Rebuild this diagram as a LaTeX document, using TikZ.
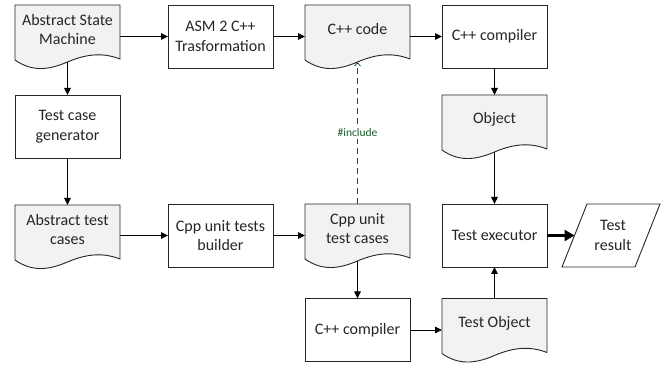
\documentclass[tikz,border=0pt]{standalone}
\usepackage{fontspec}
\setmainfont{Carlito}
\usetikzlibrary{arrows.meta,calc}
\definecolor{docfill}{RGB}{242,242,242}
\definecolor{edge}{RGB}{38,38,38}
\definecolor{incgreen}{RGB}{30,90,45}
\newcommand\docpath[1]{%
 \draw[shapeline,fill=docfill] (#1.north west) -- (#1.north east) -- ([yshift=9pt]#1.south east)
 .. controls ([xshift=-15.75pt,yshift=15pt]#1.south east) and ([xshift=-31.5pt,yshift=15pt]#1.south east) .. ([yshift=6pt]#1.south)
 .. controls ([xshift=-21pt,yshift=-3pt]#1.south) and ([xshift=-36.75pt,yshift=-3pt]#1.south) .. ([yshift=8pt]#1.south west) -- cycle;}
\tikzset{
 shapeline/.style={draw=edge,line width=0.9pt},
 area/.style={minimum width=105pt,minimum height=63pt,inner sep=0pt,outer sep=0pt},
 procbox/.style={area,shapeline,fill=white,align=center,text=edge,font=\fontsize{16}{19.5}\selectfont},
 txt/.style={align=center,text=edge,inner sep=0pt,font=\fontsize{16}{19.5}\selectfont},
 arr/.style={draw=black,line width=0.9pt,-{Triangle[length=7pt,width=6.5pt]}},
}
\begin{document}
\begin{tikzpicture}[x=1pt,y=1pt]
\useasboundingbox (0,0) rectangle (665,-366);
% document-shaped areas
\node[area] (asm) at (67.5,-36.5) {};
\node[area] (atc) at (67.5,-236.5) {};
\node[area] (code) at (357.5,-36.5) {};
\node[area] (cut) at (357.5,-235.5) {};
\node[area] (obj) at (494.5,-126.5) {};
\node[area] (tobj) at (494.5,-330) {};
\docpath{asm}
\docpath{atc}
\docpath{code}
\docpath{cut}
\docpath{obj}
\docpath{tobj}
\node[txt] (asmt) at ([yshift=7pt]asm.center) {Abstract State\\Machine};
\node[txt] (atct) at ([yshift=7pt]atc.center) {Abstract test\\cases};
\node[txt] (codet) at ([yshift=7pt]code.center) {C++ code};
\node[txt] (cutt) at ([yshift=7pt]cut.center) {Cpp unit\\test cases};
\node[txt] (objt) at ([yshift=7pt]obj.center) {Object};
\node[txt] (tobjt) at ([yshift=7pt]tobj.center) {Test Object};
% process boxes
\node[procbox] (a2c) at (220.5,-36.5) {ASM 2 C++\\Trasformation};
\node[procbox] (tcg) at (67.5,-126.5) {Test case\\generator};
\node[procbox] (bld) at (220.5,-235.5) {Cpp unit tests\\builder};
\node[procbox] (cc1) at (494.5,-36.5) {C++ compiler};
\node[procbox] (tex) at (494.5,-235.5) {Test executor};
\node[procbox] (cc2) at (357.5,-330) {C++ compiler};
% test result parallelogram
\node[area,minimum width=98pt] (res) at (611,-235.5) {};
\draw[shapeline,fill=white] ([xshift=25pt]res.north west) -- (res.north east) -- ([xshift=-25pt]res.south east) -- (res.south west) -- cycle;
\node[txt] (rest) at ([xshift=2pt]res.center) {Test\\result};
\coordinate (reshit) at (574.5,-235.5);
% connectors
\draw[arr] (asm.east) -- (a2c.west);
\draw[arr] (a2c.east) -- (code.west);
\draw[arr] (code.east) -- (cc1.west);
\draw[arr] (cc1.south) -- (obj.north);
\draw[arr] ([yshift=6pt]obj.south) -- (tex.north);
\draw[arr] ([yshift=6pt]asm.south) -- (tcg.north);
\draw[arr] (tcg.south) -- (atc.north);
\draw[arr] (atc.east |- bld.west) -- (bld.west);
\draw[arr] (bld.east) -- (cut.west);
\draw[arr] ([yshift=6pt]cut.south) -- (cc2.north);
\draw[arr] (cc2.east) -- (tobj.west);
\draw[arr] (tobj.north) -- (tex.south);
\draw[draw=black,line width=2.6pt,-{Triangle[length=10pt,width=11pt]}] (tex.east) -- (reshit);
\draw[draw=incgreen,line width=0.8pt,dash pattern=on 6pt off 4pt,-{Straight Barb[length=3.5pt,width=6pt]}] (cut.north) -- node[fill=white,text=incgreen,font=\fontsize{11.5}{13}\selectfont,inner sep=2pt] (inc) {\#include} ([yshift=6pt]code.south);
\end{tikzpicture}
\end{document}
